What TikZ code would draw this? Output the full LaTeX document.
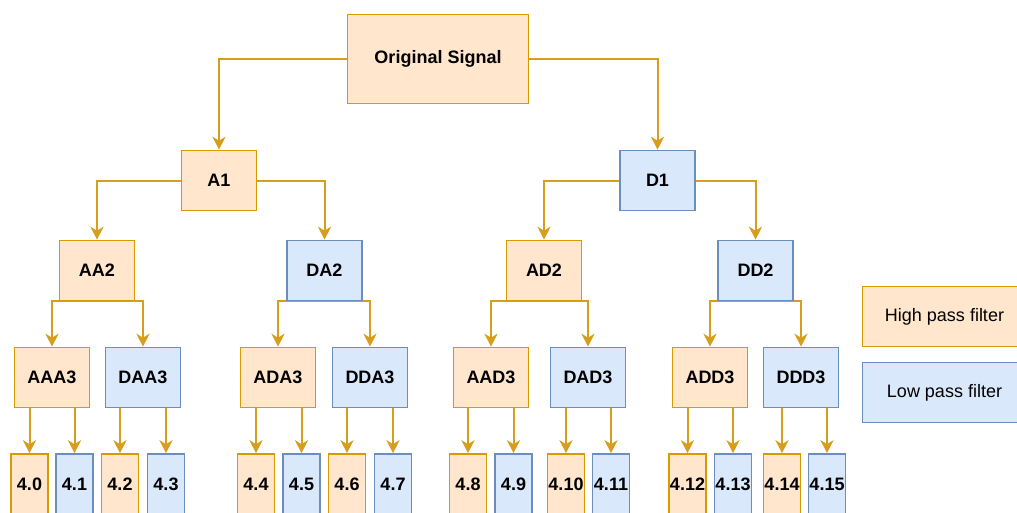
\documentclass[tikz,border=0pt]{standalone}
\usepackage{fontspec}
\setmainfont{Liberation Sans}
\usetikzlibrary{arrows.meta,backgrounds}
\definecolor{hpfill}{HTML}{FFE6CC}
\definecolor{hpline}{HTML}{D79B00}
\definecolor{lpfill}{HTML}{DAE8FC}
\definecolor{lpline}{HTML}{6C8EBF}
\definecolor{edgecol}{HTML}{D69E1A}
\begin{document}
\begin{tikzpicture}[x=1pt,y=-1pt,
  box/.style={draw, line width=1.6pt, inner sep=0pt, font=\fontsize{18}{20}\selectfont\bfseries, minimum width=75pt, minimum height=60pt},
  hp/.style={box, fill=hpfill, draw=hpline},
  lp/.style={box, fill=lpfill, draw=lpline},
  leaf/.style={minimum width=37pt},
  legend/.style={font=\fontsize{18}{20}\selectfont, minimum width=164pt},
  conn/.style={draw=edgecol, line width=2pt, -{Stealth[length=13pt,width=13pt,inset=4pt]}}
]
\useasboundingbox (0,0) rectangle (1017,512);

\node[hp, minimum width=181pt, minimum height=89pt] (orig) at (438,59) {Original Signal};
\node[hp] (A1) at (219,180.5) {A1};
\node[lp] (D1) at (657.5,180.5) {D1};

\node[hp] (AA2) at (97,270.5) {AA2};
\node[lp] (DA2) at (324.5,270.5) {DA2};
\node[hp] (AD2) at (544,270.5) {AD2};
\node[lp] (DD2) at (755.5,270.5) {DD2};

\node[hp] (AAA3) at (52,377.5) {AAA3};
\node[lp] (DAA3) at (143,377.5) {DAA3};
\node[hp] (ADA3) at (278,377.5) {ADA3};
\node[lp] (DDA3) at (370,377.5) {DDA3};
\node[hp] (AAD3) at (491,377.5) {AAD3};
\node[lp] (DAD3) at (588,377.5) {DAD3};
\node[hp] (ADD3) at (710,377.5) {ADD3};
\node[lp] (DDD3) at (801,377.5) {DDD3};

\node[hp,leaf] (L0) at (29.5,484) {4.0};
\node[lp,leaf] (L1) at (74.5,484) {4.1};
\node[hp,leaf] (L2) at (120,484) {4.2};
\node[lp,leaf] (L3) at (166,484) {4.3};
\node[hp,leaf] (L4) at (256,484) {4.4};
\node[lp,leaf] (L5) at (301.5,484) {4.5};
\node[hp,leaf] (L6) at (347,484) {4.6};
\node[lp,leaf] (L7) at (393,484) {4.7};
\node[hp,leaf] (L8) at (468,484) {4.8};
\node[lp,leaf] (L9) at (513.5,484) {4.9};
\node[hp,leaf] (L10) at (566,484) {4.10};
\node[lp,leaf] (L11) at (611,484) {4.11};
\node[hp,leaf] (L12) at (687.5,484) {4.12};
\node[lp,leaf] (L13) at (733,484) {4.13};
\node[hp,leaf] (L14) at (782,484) {4.14};
\node[lp,leaf] (L15) at (827,484) {4.15};

\node[hp,legend] (hpl) at (944.5,316.5) {High pass filter};
\node[lp,legend] (lpl) at (944.5,392.5) {Low pass filter};

\begin{scope}[on background layer]
\draw[conn] (orig.west) -| (A1.north);
\draw[conn] (orig.east) -| (D1.north);
\draw[conn] (A1.west) -| (AA2.north);
\draw[conn] (A1.east) -| (DA2.north);
\draw[conn] (D1.west) -| (AD2.north);
\draw[conn] (D1.east) -| (DD2.north);
\foreach \p/\a/\b in {AA2/AAA3/DAA3, DA2/ADA3/DDA3, AD2/AAD3/DAD3, DD2/ADD3/DDD3}{
  \draw[conn] (\p.south) -| (\a.north);
  \draw[conn] (\p.south) -| (\b.north);
}
\foreach \p/\a/\b in {AAA3/L0/L1, DAA3/L2/L3, ADA3/L4/L5, DDA3/L6/L7, AAD3/L8/L9, DAD3/L10/L11, ADD3/L12/L13, DDD3/L14/L15}{
  \draw[conn] (\p.south -| \a.north) -- (\a.north);
  \draw[conn] (\p.south -| \b.north) -- (\b.north);
}
\end{scope}
\end{tikzpicture}
\end{document}
